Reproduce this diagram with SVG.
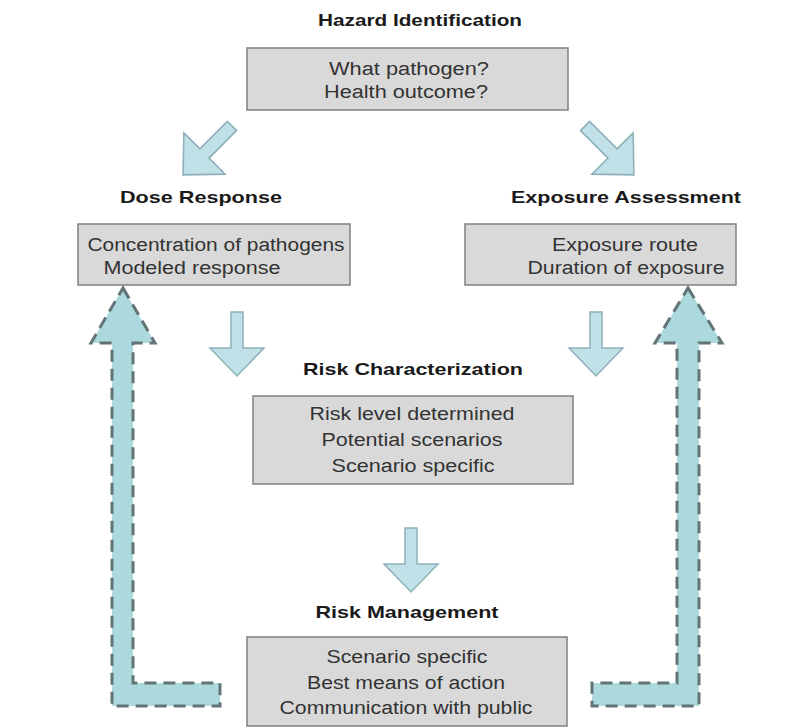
<svg xmlns="http://www.w3.org/2000/svg" width="786" height="728" viewBox="0 0 786 728">
<defs>
<style>
.box{fill:#d9d9d9;stroke:#808080;stroke-width:1.5}
.lbl{font-family:"Liberation Sans",Arial,sans-serif;font-size:17px;font-weight:bold;fill:#1a1a1a;text-anchor:middle}
.txt{font-family:"Liberation Sans",Arial,sans-serif;font-size:18px;fill:#333333;text-anchor:middle}
.sarrow{fill:#c0e1e8;stroke:#8fb0b8;stroke-width:1.5}
.darrow{fill:#acd9de;stroke:#627475;stroke-width:3;stroke-dasharray:12 7}
</style>
<path id="blk" d="M-6,-34 L6,-34 L6,2 L27,2 L0,30 L-27,2 L-6,2 Z"/>
</defs>
<rect width="786" height="728" fill="#ffffff"/>
<g id="hazard">
<text class="lbl" x="420" y="26" textLength="204" lengthAdjust="spacingAndGlyphs">Hazard Identification</text>
<rect class="box" x="247" y="48" width="321" height="62"/>
<text class="txt" x="409" y="75" textLength="160" lengthAdjust="spacingAndGlyphs">What pathogen?</text>
<text class="txt" x="406" y="98" textLength="164" lengthAdjust="spacingAndGlyphs">Health outcome?</text>
</g>
<g id="dose">
<text class="lbl" x="201" y="203" textLength="162" lengthAdjust="spacingAndGlyphs">Dose Response</text>
<rect class="box" x="78" y="224" width="272" height="61"/>
<text class="txt" x="216" y="251" textLength="257" lengthAdjust="spacingAndGlyphs">Concentration of pathogens</text>
<text class="txt" x="192" y="274" textLength="177" lengthAdjust="spacingAndGlyphs">Modeled response</text>
</g>
<g id="exposure">
<text class="lbl" x="626" y="203" textLength="230" lengthAdjust="spacingAndGlyphs">Exposure Assessment</text>
<rect class="box" x="465" y="224" width="271" height="61"/>
<text class="txt" x="625" y="251" textLength="146" lengthAdjust="spacingAndGlyphs">Exposure route</text>
<text class="txt" x="626" y="274" textLength="197" lengthAdjust="spacingAndGlyphs">Duration of exposure</text>
</g>
<g id="riskchar">
<text class="lbl" x="413" y="375" textLength="220" lengthAdjust="spacingAndGlyphs">Risk Characterization</text>
<rect class="box" x="253" y="396" width="320" height="88"/>
<text class="txt" x="412" y="420" textLength="205" lengthAdjust="spacingAndGlyphs">Risk level determined</text>
<text class="txt" x="412" y="446" textLength="181" lengthAdjust="spacingAndGlyphs">Potential scenarios</text>
<text class="txt" x="413" y="472" textLength="163" lengthAdjust="spacingAndGlyphs">Scenario specific</text>
</g>
<g id="riskmgmt">
<text class="lbl" x="407" y="618" textLength="183" lengthAdjust="spacingAndGlyphs">Risk Management</text>
<rect class="box" x="247" y="637" width="320" height="89"/>
<text class="txt" x="407" y="663" textLength="161" lengthAdjust="spacingAndGlyphs">Scenario specific</text>
<text class="txt" x="406" y="689" textLength="198" lengthAdjust="spacingAndGlyphs">Best means of action</text>
<text class="txt" x="406" y="714" textLength="253" lengthAdjust="spacingAndGlyphs">Communication with public</text>
</g>
<g id="connectors">
<use href="#blk" class="sarrow" transform="translate(206,152) rotate(45) scale(1.08)"/>
<use href="#blk" class="sarrow" transform="translate(611,152) rotate(-45) scale(1.08)"/>
<use href="#blk" class="sarrow" transform="translate(237,346)"/>
<use href="#blk" class="sarrow" transform="translate(596,346)"/>
<use href="#blk" class="sarrow" transform="translate(411,562)"/>
<polygon class="darrow" points="123,288 155,343 133,343 133,683 220,683 220,706 112,706 112,343 91,343"/>
<polygon class="darrow" points="688,288 722,343 699,343 699,706 592,706 592,683 677,683 677,343 655,343"/>
</g>
</svg>
